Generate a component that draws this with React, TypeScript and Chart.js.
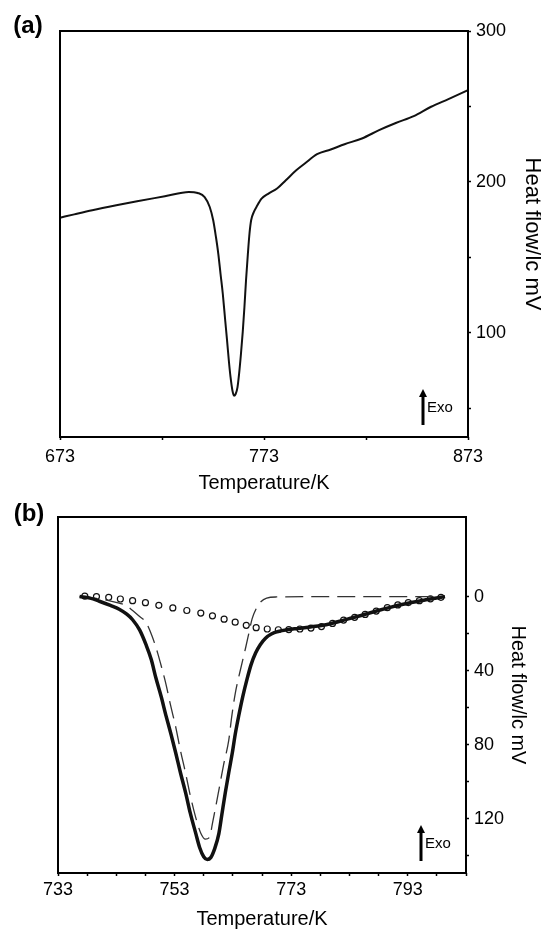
import React, { useEffect, useRef } from 'react';
import { Chart, registerables } from 'chart.js';

Chart.register(...registerables);

const FONT = "'Liberation Sans', Arial, Helvetica, sans-serif";

// ---------- Panel (a) ----------
const tempA = [
  673, 680, 688.8, 700.6, 710.8, 724.4, 736.2, 740.5, 743.9, 746.4, 748.1, 749.5, 750.6, 751.7,
  752.8, 754, 754.9, 755.8, 756.6, 757.5, 758.3, 759.1, 760, 760.8, 761.7, 762.6, 763.4, 764.2,
  765.1, 765.9, 766.7, 768, 769.3, 771.8, 775.2, 779.4, 783.7, 788.8, 793, 799, 805.7, 812.5,
  821, 829.4, 837.9, 846.4, 854.9, 863.4, 873,
];
const flowA = [
  176.3, 178.5, 181.2, 184.5, 187.2, 190.5, 193.4, 192.7, 190.0, 183.4, 174.6, 163, 152.4, 139,
  125.9, 108, 94.9, 81, 70.6, 62, 58.4, 59.5, 63.9, 73, 86, 101, 117, 135,
  152.4, 166, 174.6, 180, 183.4, 188.9, 192.3, 195.6, 201.1, 207.7, 212.2, 218.4, 221.5, 225,
  228.8, 234.3, 239.2, 243.6, 249.8, 254.9, 260.8,
];
const xTicksA = [673, 723, 773, 823, 873];
const xLabelsA = [673, 773, 873];
const yTicksA = [50, 100, 150, 200, 250, 300];
const yLabelsA = [100, 200, 300];

// ---------- Panel (b) ----------
const tempSolidB = [
  736.7, 738.5, 740.1, 742.0, 743.5, 744.8, 745.8, 747.0, 748.1, 749.0, 749.8, 750.7, 751.5, 752.4,
  753.2, 754.0, 754.9, 755.7, 756.6, 757.3, 758.0, 758.6, 759.2, 759.9, 760.6, 761.1, 761.7, 762.3,
  762.9, 763.4, 764.0, 764.7, 765.4, 766.1, 766.9, 767.7, 768.6, 769.6, 770.8, 772.5, 774.2, 776.3,
  778.2, 779.9, 781.5, 782.8, 784.5, 786.3, 788.1, 790, 791.8, 793.6, 795.5, 797.4, 799.4,
];
const flowSolidB = [
  0, 0.8, 2.5, 4.8, 6.8, 9.5, 12.5, 18, 26, 34, 44, 54, 64, 74.5,
  84.5, 95, 106, 117, 127.5, 135.5, 140.5, 142, 141, 136, 128, 118, 106, 95,
  84.5, 74.5, 64.5, 54, 45, 37, 30.5, 26, 22.5, 20.2, 18.8, 17.8, 17.2, 16.4,
  15.6, 14.5, 13.2, 12, 10.6, 9, 7.4, 5.8, 4.4, 3.2, 2.1, 1.0, 0,
];
const tempDashB = [
  736.7, 739.0, 741.5, 743.5, 744.7, 745.8, 746.9, 748.1, 749.1, 750.1, 750.8, 751.5, 752.3, 753.2,
  754.0, 754.9, 755.7, 756.6, 757.5, 758.3, 759.0, 759.5, 760.0, 760.6, 761.4, 762.3, 762.8, 763.4,
  764.3, 765.2, 765.8, 766.3, 767.0, 767.8, 768.8, 770.5, 780, 790, 799.4,
];
const flowDashB = [
  0, 0.7, 2.0, 3.5, 4.8, 7.5, 10.5, 14, 21, 30.5, 38.5, 47, 58.5, 70.5,
  83, 95.5, 107.5, 119, 127.8, 131, 130, 122.5, 114.5, 104.5, 91, 77.5, 65, 52.5,
  39.5, 27.5, 19, 12, 6.5, 2.8, 0.8, 0.2, 0, 0, 0,
];
const tempCircB = [
  737.6, 739.6, 741.7, 743.7, 745.8, 748.0, 750.3, 752.7, 755.1, 757.5, 759.5, 761.5, 763.4, 765.3,
  767.0, 768.9, 770.8, 772.6, 774.5, 776.4, 778.2, 780.1, 782.0, 783.9, 785.7, 787.6, 789.5, 791.3,
  793.1, 795.0, 796.9, 798.7,
];
const flowCircB = [
  -0.3, 0, 0.4, 1.3, 2.2, 3.3, 4.7, 6.1, 7.5, 8.9, 10.4, 12.2, 13.8, 15.5,
  16.8, 17.5, 17.9, 17.8, 17.5, 17.0, 16.2, 14.5, 12.7, 11.2, 9.6, 7.8, 6.0, 4.5,
  3.2, 2.2, 1.2, 0.4,
];
const xTicksB = [733, 738, 743, 748, 753, 758, 763, 768, 773, 778, 783, 788, 793, 798, 803];
const xLabelsB = [733, 753, 773, 793];
const yTicksB = [0, 20, 40, 60, 80, 100, 120, 140];
const yLabelsB = [0, 40, 80, 120];

const toPts = (xs: number[], ys: number[]) => xs.map((x, i) => ({ x, y: ys[i] }));

function decorPlugin(label: string, labelX: number, labelY: number) {
  return {
    id: 'decor' + label,
    afterDraw(chart: any) {
      const { ctx, chartArea: a } = chart;
      ctx.save();
      ctx.strokeStyle = '#000';
      ctx.lineWidth = 2;
      ctx.strokeRect(a.left, a.top, a.right - a.left, a.bottom - a.top);
      ctx.fillStyle = '#000';
      ctx.font = `bold 24px ${FONT}`;
      ctx.textAlign = 'center';
      ctx.textBaseline = 'middle';
      ctx.fillText(label, labelX, labelY);
      // Exo arrow
      const ax = a.right - 45;
      const ab = a.bottom - 12;
      const at = a.bottom - 48;
      ctx.lineWidth = 3;
      ctx.beginPath();
      ctx.moveTo(ax, ab);
      ctx.lineTo(ax, at + 6);
      ctx.stroke();
      ctx.beginPath();
      ctx.moveTo(ax, at);
      ctx.lineTo(ax - 4, at + 8);
      ctx.lineTo(ax + 4, at + 8);
      ctx.closePath();
      ctx.fill();
      ctx.font = `15px ${FONT}`;
      ctx.textAlign = 'left';
      ctx.fillText('Exo', ax + 4, a.bottom - 29);
      ctx.restore();
    },
  };
}

const tickGrid = {
  drawOnChartArea: false,
  drawTicks: true,
  tickLength: 3,
  tickWidth: 1.5,
  tickColor: '#000',
};

function makeTicks(values: number[]) {
  return (s: any) => {
    s.ticks = values.map((v) => ({ value: v }));
  };
}

export default function App() {
  const refA = useRef<HTMLCanvasElement>(null);
  const refB = useRef<HTMLCanvasElement>(null);

  useEffect(() => {
    const chartA = new Chart(refA.current as HTMLCanvasElement, {
      type: 'line',
      data: {
        datasets: [
          {
            data: toPts(tempA, flowA),
            borderColor: '#111',
            borderWidth: 2,
            pointRadius: 0,
            cubicInterpolationMode: 'monotone',
          },
        ],
      },
      options: {
        responsive: false,
        animation: false,
        layout: { padding: { left: 60, top: 31, right: 0, bottom: 0 } },
        plugins: { legend: { display: false }, tooltip: { enabled: false } },
        scales: {
          x: {
            type: 'linear',
            position: 'bottom',
            min: 673,
            max: 873,
            afterBuildTicks: makeTicks(xTicksA),
            afterFit: (s: any) => {
              s.height = 58;
            },
            ticks: {
              autoSkip: false,
              maxRotation: 0,
              padding: 6,
              color: '#000',
              font: { size: 18, family: FONT },
              callback: (v: any) => (xLabelsA.includes(v) ? String(v) : ''),
            },
            grid: tickGrid,
            border: { display: false },
            title: {
              display: true,
              text: 'Temperature/K',
              color: '#000',
              font: { size: 20, family: FONT, lineHeight: 1.15 },
              padding: { top: 0, bottom: 0 },
            },
          },
          y: {
            type: 'linear',
            position: 'right',
            min: 31,
            max: 300,
            afterBuildTicks: makeTicks(yTicksA),
            afterFit: (s: any) => {
              s.width = 73;
            },
            ticks: {
              autoSkip: false,
              padding: 5,
              color: '#000',
              font: { size: 18, family: FONT },
              callback: (v: any) => (yLabelsA.includes(v) ? String(v) : ''),
            },
            grid: tickGrid,
            border: { display: false },
            title: {
              display: true,
              text: 'Heat flow/lc mV',
              color: '#000',
              font: { size: 22, family: FONT, lineHeight: 1 },
              padding: { top: -2.5, bottom: 0 },
            },
          },
        },
      } as any,
      plugins: [decorPlugin('(a)', 28, 26)],
    });

    const chartB = new Chart(refB.current as HTMLCanvasElement, {
      type: 'line',
      data: {
        datasets: [
          {
            data: toPts(tempSolidB, flowSolidB),
            borderColor: '#111',
            borderWidth: 3.5,
            pointRadius: 0,
            cubicInterpolationMode: 'monotone',
          },
          {
            data: toPts(tempDashB, flowDashB),
            borderColor: '#333',
            borderWidth: 1.3,
            borderDash: [18, 8],
            pointRadius: 0,
            cubicInterpolationMode: 'monotone',
          },
          {
            data: toPts(tempCircB, flowCircB),
            showLine: false,
            pointRadius: 3,
            pointBorderWidth: 1.2,
            pointBorderColor: '#111',
            pointBackgroundColor: 'rgba(0,0,0,0)',
            pointStyle: 'circle',
          },
        ],
      },
      options: {
        responsive: false,
        animation: false,
        layout: { padding: { left: 58, top: 22, right: 0, bottom: 0 } },
        plugins: { legend: { display: false }, tooltip: { enabled: false } },
        scales: {
          x: {
            type: 'linear',
            position: 'bottom',
            min: 733,
            max: 803,
            afterBuildTicks: makeTicks(xTicksB),
            afterFit: (s: any) => {
              s.height = 56;
            },
            ticks: {
              autoSkip: false,
              maxRotation: 0,
              padding: 3,
              color: '#000',
              font: { size: 18, family: FONT },
              callback: (v: any) => (xLabelsB.includes(v) ? String(v) : ''),
            },
            grid: tickGrid,
            border: { display: false },
            title: {
              display: true,
              text: 'Temperature/K',
              color: '#000',
              font: { size: 20, family: FONT, lineHeight: 1 },
              padding: { top: 0, bottom: -0.5 },
            },
          },
          y: {
            type: 'linear',
            position: 'right',
            reverse: true,
            min: -43,
            max: 149.3,
            afterBuildTicks: makeTicks(yTicksB),
            afterFit: (s: any) => {
              s.width = 75;
            },
            ticks: {
              autoSkip: false,
              padding: 5,
              color: '#000',
              font: { size: 18, family: FONT },
              callback: (v: any) => (yLabelsB.includes(v) ? String(v) : ''),
            },
            grid: tickGrid,
            border: { display: false },
            title: {
              display: true,
              text: 'Heat flow/lc mV',
              color: '#000',
              font: { size: 20, family: FONT, lineHeight: 1 },
              padding: { top: 13, bottom: 0 },
            },
          },
        },
      } as any,
      plugins: [decorPlugin('(b)', 29, 19)],
    });

    return () => {
      chartA.destroy();
      chartB.destroy();
    };
  }, []);

  return (
    <div style={{ position: 'absolute', left: 0, top: 0, width: 541, height: 929, background: '#fff' }}>
      <canvas
        ref={refA}
        width={541}
        height={495}
        style={{ position: 'absolute', left: 0, top: 0, width: 541, height: 495, display: 'block' }}
      />
      <canvas
        ref={refB}
        width={541}
        height={434}
        style={{ position: 'absolute', left: 0, top: 495, width: 541, height: 434, display: 'block' }}
      />
    </div>
  );
}
